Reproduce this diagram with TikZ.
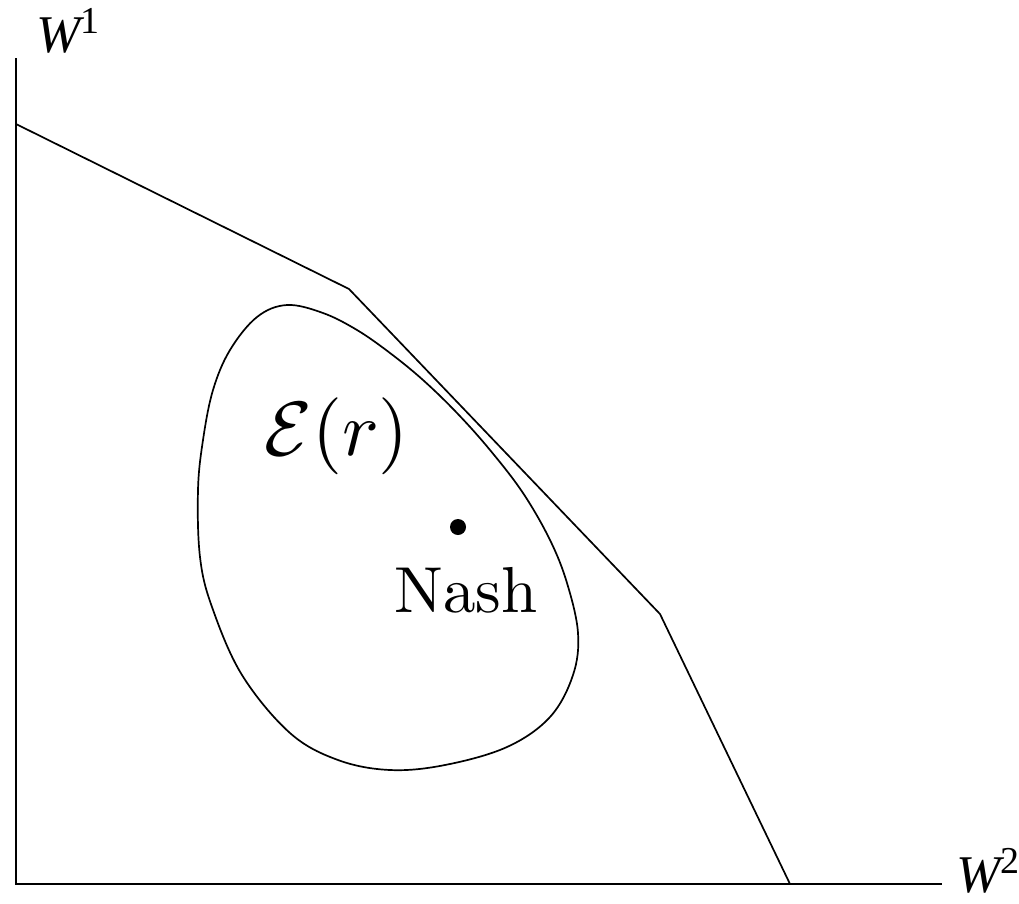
\documentclass[tikz,border=0pt]{standalone}
\usepackage{fontspec}
\newfontfamily\tms{Liberation Serif}
\begin{document}
\begin{tikzpicture}[x=1pt,y=-1pt,
  curve/.style={line width=1.7pt, line join=miter},
  axislabel/.style={anchor=base west, inner sep=0pt, font=\tms\itshape\fontsize{53}{53}\selectfont}]
\useasboundingbox (0,0) rectangle (1019,903);
% axes
\coordinate (O) at (16,884);
\coordinate (Ytop) at (16,58);
\coordinate (Xend) at (942,884);
\draw[curve] (Ytop) -- (O) -- (Xend);
\node[axislabel] (w1) at (36,52) {W\raisebox{19pt}{\upshape\fontsize{38}{38}\selectfont 1}};
\node[axislabel] (w2) at (956,892) {W\raisebox{19pt}{\upshape\fontsize{38}{38}\selectfont 2}};
% frontier
\coordinate (p0) at (16,124);
\coordinate (p1) at (349,289);
\coordinate (p2) at (660,614);
\coordinate (p3) at (790,884);
\draw[curve] (p0) -- (p1) -- (p2) -- (p3);
% egg
\draw[curve] plot[smooth cycle, tension=0.6] coordinates {
 (287,305) (323,313) (357,330) (390,353) (423,380) (457,413) (490,450)
 (523,493) (550,540) (567,583) (578,633) (573,675) (550,717) (507,747)
 (445,765) (390,770) (338,760) (290,733) (242,675) (212,607) (200,557)
 (198,490) (203,440) (213,390) (230,350) (257,317)};
\node[inner sep=0pt, anchor=base west, scale=7.7] (E) at (263,455) {$\mathcal{E}(r)$};
\fill (458,527) circle (8);
\node[inner sep=0pt, anchor=base west, scale=6.5] (nash) at (393,612) {Nash};
\end{tikzpicture}
\end{document}
